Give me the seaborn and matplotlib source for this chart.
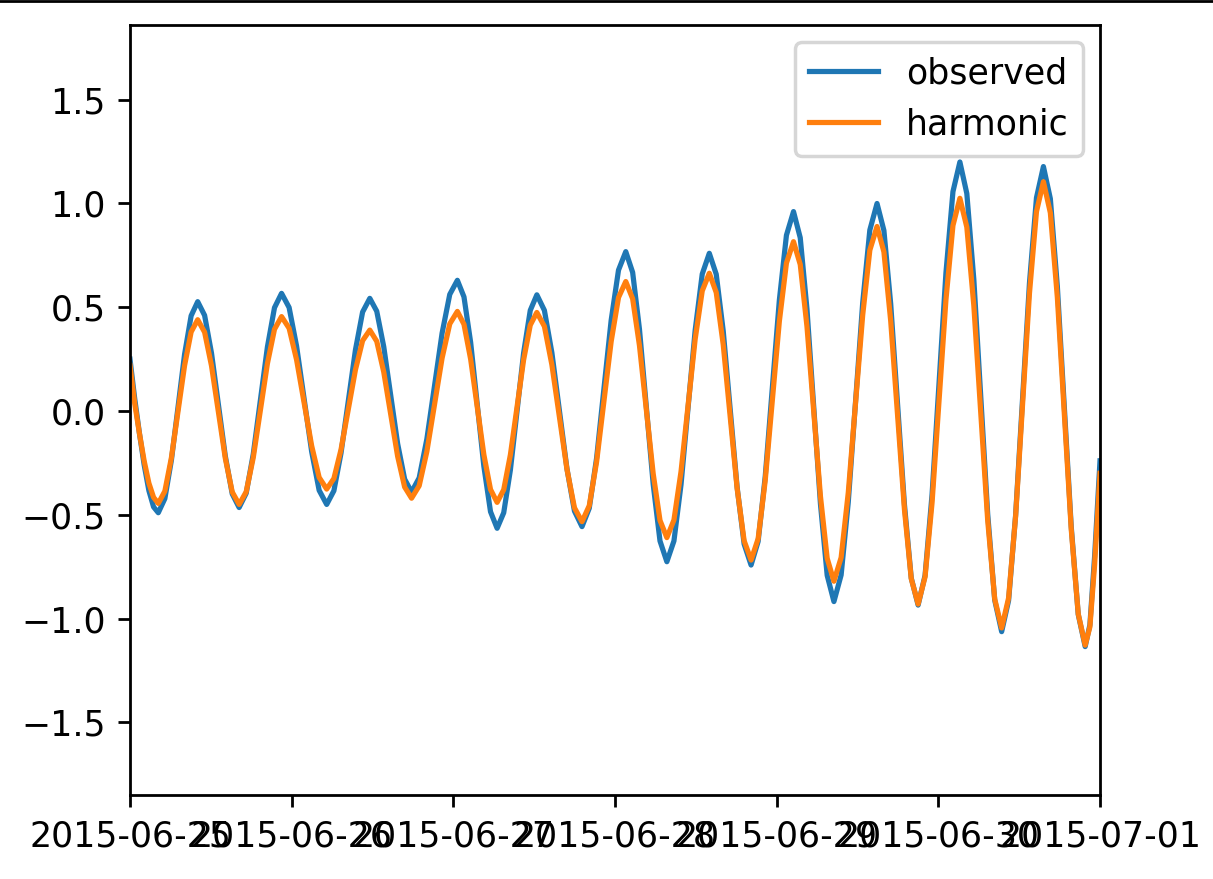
import matplotlib
matplotlib.use("Agg")
import matplotlib.pyplot as plt
import matplotlib.dates as mdates
from matplotlib.lines import Line2D
import seaborn as sns
import pandas as pd

# Hours after 2015-06-25 00:00 (read positions of the curves)
hours = [
    0.0, 0.7, 1.4, 2.1, 2.8, 3.5,
    4.2, 5.175, 6.15, 7.125, 8.1, 9.075,
    10.05, 11.075, 12.1, 13.125, 14.15, 15.175,
    16.2, 17.25, 18.3, 19.35, 20.4, 21.45,
    22.5, 23.62, 24.73, 25.85, 26.97, 28.08,
    29.2, 30.27, 31.33, 32.4, 33.47, 34.53,
    35.6, 36.63, 37.67, 38.7, 39.73, 40.77,
    41.8, 42.93, 44.07, 45.2, 46.33, 47.47,
    48.6, 49.58, 50.57, 51.55, 52.53, 53.52,
    54.5, 55.48, 56.47, 57.45, 58.43, 59.42,
    60.4, 61.52, 62.63, 63.75, 64.87, 65.98,
    67.1, 68.18, 69.27, 70.35, 71.43, 72.52,
    73.6, 74.62, 75.63, 76.65, 77.67, 78.68,
    79.7, 80.75, 81.8, 82.85, 83.9, 84.95,
    86.0, 87.03, 88.07, 89.1, 90.13, 91.17,
    92.2, 93.25, 94.3, 95.35, 96.4, 97.45,
    98.5, 99.5, 100.5, 101.5, 102.5, 103.5,
    104.5, 105.57, 106.63, 107.7, 108.77, 109.83,
    110.9, 111.92, 112.93, 113.95, 114.97, 115.98,
    117.0, 118.03, 119.07, 120.1, 121.13, 122.17,
    123.2, 124.23, 125.27, 126.3, 127.33, 128.37,
    129.4, 130.43, 131.47, 132.5, 133.53, 134.57,
    135.6, 136.63, 137.67, 138.7, 139.73, 140.77,
    141.8, 142.5, 143.2, 144.0,
]

observed = [
    0.25, 0.06, -0.107, -0.259, -0.383, -0.462,
    -0.49, -0.422, -0.236, 0.019, 0.273, 0.459,
    0.527, 0.461, 0.279, 0.031, -0.217, -0.399,
    -0.465, -0.396, -0.207, 0.051, 0.309, 0.498,
    0.567, 0.499, 0.313, 0.059, -0.196, -0.382,
    -0.45, -0.384, -0.202, 0.047, 0.295, 0.477,
    0.543, 0.481, 0.310, 0.077, -0.157, -0.328,
    -0.39, -0.322, -0.135, 0.12, 0.375, 0.562,
    0.63, 0.550, 0.331, 0.033, -0.266, -0.485,
    -0.565, -0.490, -0.284, -0.003, 0.279, 0.485,
    0.56, 0.485, 0.281, 0.002, -0.278, -0.482,
    -0.557, -0.468, -0.226, 0.106, 0.437, 0.679,
    0.768, 0.668, 0.395, 0.021, -0.353, -0.626,
    -0.726, -0.626, -0.355, 0.017, 0.389, 0.660,
    0.76, 0.659, 0.385, 0.009, -0.367, -0.641,
    -0.742, -0.628, -0.316, 0.110, 0.535, 0.847,
    0.961, 0.835, 0.491, 0.022, -0.448, -0.792,
    -0.918, -0.790, -0.439, 0.041, 0.521, 0.872,
    1.0, 0.870, 0.516, 0.033, -0.451, -0.805,
    -0.935, -0.792, -0.401, 0.133, 0.666, 1.057,
    1.20, 1.048, 0.634, 0.069, -0.497, -0.911,
    -1.063, -0.913, -0.503, 0.058, 0.618, 1.028,
    1.178, 1.023, 0.600, 0.022, -0.557, -0.980,
    -1.135, -1.03, -0.70, -0.24,
]

harmonic = [
    0.22, 0.036, -0.108, -0.24, -0.347, -0.416,
    -0.445, -0.386, -0.224, -0.003, 0.219, 0.381,
    0.44, 0.380, 0.218, -0.005, -0.228, -0.390,
    -0.45, -0.389, -0.224, 0.003, 0.229, 0.394,
    0.455, 0.399, 0.247, 0.040, -0.168, -0.320,
    -0.376, -0.325, -0.185, 0.007, 0.199, 0.339,
    0.39, 0.336, 0.188, -0.015, -0.218, -0.366,
    -0.42, -0.360, -0.195, 0.03, 0.255, 0.420,
    0.48, 0.418, 0.25, 0.02, -0.21, -0.378,
    -0.44, -0.379, -0.211, 0.018, 0.246, 0.414,
    0.475, 0.408, 0.223, -0.029, -0.281, -0.466,
    -0.533, -0.456, -0.244, 0.046, 0.335, 0.547,
    0.624, 0.541, 0.316, 0.007, -0.302, -0.527,
    -0.61, -0.525, -0.292, 0.027, 0.346, 0.579,
    0.664, 0.571, 0.319, -0.027, -0.373, -0.625,
    -0.718, -0.615, -0.335, 0.049, 0.433, 0.713,
    0.816, 0.706, 0.407, -0.002, -0.411, -0.710,
    -0.82, -0.706, -0.393, 0.035, 0.462, 0.775,
    0.889, 0.767, 0.434, -0.021, -0.475, -0.808,
    -0.93, -0.799, -0.441, 0.048, 0.536, 0.894,
    1.025, 0.886, 0.508, -0.010, -0.528, -0.906,
    -1.045, -0.901, -0.508, 0.03, 0.568, 0.961,
    1.105, 0.955, 0.547, -0.012, -0.570, -0.978,
    -1.128, -1.04, -0.74, -0.30,
]

series_labels = ["observed", "harmonic"]
start = pd.Timestamp("2015-06-25")
end = pd.Timestamp("2015-07-01")

df = pd.DataFrame({
    "time": start + pd.to_timedelta(hours, unit="h"),
    "observed": observed,
    "harmonic": harmonic,
})

DPI = 250
fig = plt.figure(figsize=(1213 / DPI, 879 / DPI), dpi=DPI)
ax = fig.add_axes([130 / 1213, 1 - 795 / 879, 970 / 1213, 770 / 879])

colors = ["#1f77b4", "#ff7f0e"]
for name, col in zip(series_labels, colors):
    sns.lineplot(data=df, x="time", y=name, ax=ax, color=col, label=name,
                 linewidth=1.5, estimator=None, sort=True)

ax.set_xlim(start, end)
ax.set_ylim(-1.85, 1.86)
ax.set_yticks([-1.5, -1.0, -0.5, 0.0, 0.5, 1.0, 1.5])
ax.xaxis.set_major_locator(mdates.DayLocator())
ax.xaxis.set_major_formatter(mdates.DateFormatter("%Y-%m-%d"))
ax.set_xlabel("")
ax.set_ylabel("")
ax.legend(loc="upper right")

fig.add_artist(Line2D([0, 1], [1 - 1.2 / 879, 1 - 1.2 / 879], color="black",
                      linewidth=0.8, transform=fig.transFigure))

fig.savefig("out.png", dpi=DPI)
